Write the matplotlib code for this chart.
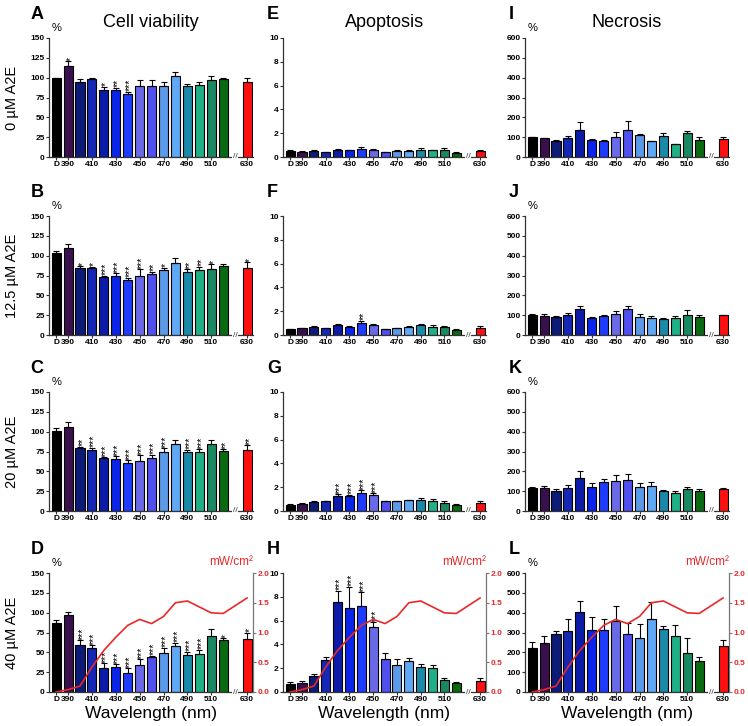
import matplotlib
matplotlib.use('Agg')
import matplotlib.pyplot as plt
import matplotlib.transforms as mtransforms
import numpy as np

plt.rcParams['font.family'] = ['Liberation Sans', 'DejaVu Sans']

bar_labels = ['D', '390', '400', '410', '420', '430', '440', '450', '460',
              '470', '480', '490', '500', '510', '520', '630']
tick_labels = ['D', '390', '410', '430', '450', '470', '490', '510', '630']
bar_colors = ['#000000', '#3a0f4e', '#0c1a78', '#1428b4', '#0c1ca8', '#0a24ea',
              '#1e3cff', '#6a6ae8', '#5050f0', '#5a9ae8', '#5fa8f6', '#1a8aa8',
              '#20b088', '#1a8860', '#0a6a10', '#ff1010']

# irradiance of each light band (mW/cm2)
irradiance = [0, 0.04, 0.1, 0.42, 0.7, 0.92, 1.12, 1.22, 1.15, 1.27, 1.5, 1.53,
              1.43, 1.33, 1.32, 1.58]

# cell viability (%)
via0 = [100, 115, 95, 98, 85, 84, 79, 89, 89, 89, 102, 90, 91, 97, 98, 94]
via0_err = [0, 5.5, 3.5, 1.5, 3.5, 3.5, 3.5, 8.5, 7.5, 6, 5.5, 2.5, 4, 5.5, 1.5, 6]
via0_sig = ['', '*', '', '', '*', '**', '***', '', '', '', '', '', '', '', '', '']
via12 = [103, 110, 84, 84, 73, 75, 69, 75, 77, 82, 91, 79, 82, 83, 87, 85]
via12_err = [3, 5, 3, 2, 2, 3, 3, 8, 3, 3, 6, 4, 4, 6, 2, 7]
via12_sig = ['', '', '*', '*', '***', '***', '***', '***', '**', '*', '', '**', '**',
             '*', '', '*']
via20 = [101, 106, 79, 77, 67, 66, 60, 63, 67, 74, 85, 75, 74, 84, 76, 77]
via20_err = [3, 6, 2, 3, 1, 3, 4, 7, 4, 5, 5, 2, 4, 5, 2, 6]
via20_sig = ['', '', '**', '***', '***', '***', '***', '***', '***', '***', '', '***',
             '***', '', '**', '**']
via40 = [87, 97, 59, 55, 30, 32, 24, 34, 44, 49, 58, 47, 48, 71, 65, 67]
via40_err = [4, 4, 6, 4, 6, 3, 6, 7, 2, 7, 4, 4, 5, 9, 3, 8]
via40_sig = ['', '', '***', '***', '***', '***', '***', '***', '***', '***', '***',
             '***', '***', '', '*', '*']

# apoptosis (%)
apo0 = [0.5, 0.45, 0.5, 0.4, 0.6, 0.55, 0.65, 0.6, 0.4, 0.5, 0.5, 0.6, 0.55, 0.6, 0.35, 0.5]
apo0_err = [0.05, 0.05, 0.1, 0.03, 0.1, 0.05, 0.15, 0.1, 0.05, 0.1, 0.1, 0.15, 0.08,
            0.15, 0.05, 0.1]
apo12 = [0.5, 0.55, 0.65, 0.55, 0.8, 0.7, 1.0, 0.85, 0.5, 0.55, 0.65, 0.8, 0.7, 0.65,
         0.45, 0.6]
apo12_err = [0.03, 0.05, 0.12, 0.05, 0.1, 0.05, 0.2, 0.05, 0.03, 0.05, 0.08, 0.15,
             0.12, 0.08, 0.03, 0.12]
apo12_sig = ['', '', '', '', '', '', '**', '', '', '', '', '', '', '', '', '']
apo20 = [0.5, 0.6, 0.75, 0.8, 1.25, 1.25, 1.5, 1.35, 0.8, 0.8, 0.9, 0.95, 0.85, 0.65,
         0.5, 0.65]
apo20_err = [0.05, 0.05, 0.08, 0.05, 0.15, 0.1, 0.25, 0.15, 0.05, 0.05, 0.05, 0.15,
             0.15, 0.15, 0.05, 0.15]
apo20_sig = ['', '', '', '', '***', '***', '***', '***', '', '', '', '', '', '', '', '']
apo40 = [0.7, 0.75, 1.35, 2.65, 7.6, 7.1, 7.2, 5.5, 2.8, 2.3, 2.6, 2.1, 2.0, 1.0,
         0.75, 0.95]
apo40_err = [0.1, 0.15, 0.2, 0.25, 0.9, 1.75, 1.2, 0.35, 0.45, 0.5, 0.25, 0.25, 0.3,
             0.15, 0.08, 0.2]
apo40_sig = ['', '', '', '', '***', '***', '***', '***', '', '', '', '', '', '', '', '']

# necrosis (%)
nec0 = [100, 94, 82, 94, 136, 85, 82, 100, 136, 110, 80, 107, 65, 119, 88, 92]
nec0_err = [0, 3, 3, 10, 39, 8, 6, 28, 44, 5, 3, 15, 3, 13, 15, 9]
nec12 = [101, 95, 90, 99, 129, 84, 98, 104, 132, 92, 88, 82, 85, 103, 91, 99]
nec12_err = [5, 10, 7, 11, 17, 7, 5, 15, 15, 13, 7, 4, 9, 24, 9, 4]
nec20 = [116, 117, 102, 116, 167, 120, 144, 150, 154, 120, 128, 101, 92, 109, 103, 109]
nec20_err = [4, 8, 8, 14, 33, 22, 16, 30, 32, 20, 17, 3, 9, 13, 7, 5]
nec40 = [224, 248, 292, 309, 401, 314, 311, 360, 290, 274, 367, 319, 283, 197, 156, 231]
nec40_err = [28, 33, 18, 57, 60, 65, 58, 72, 58, 68, 85, 13, 57, 73, 22, 30]

no_sig = [''] * 16

panels = [
    # letter, col, row, values, errors, stars
    ('A', 0, 0, via0, via0_err, via0_sig),
    ('B', 0, 1, via12, via12_err, via12_sig),
    ('C', 0, 2, via20, via20_err, via20_sig),
    ('D', 0, 3, via40, via40_err, via40_sig),
    ('E', 1, 0, apo0, apo0_err, no_sig),
    ('F', 1, 1, apo12, apo12_err, apo12_sig),
    ('G', 1, 2, apo20, apo20_err, apo20_sig),
    ('H', 1, 3, apo40, apo40_err, apo40_sig),
    ('I', 2, 0, nec0, nec0_err, no_sig),
    ('J', 2, 1, nec12, nec12_err, no_sig),
    ('K', 2, 2, nec20, nec20_err, no_sig),
    ('L', 2, 3, nec40, nec40_err, no_sig),
]
col_ymax = [150, 10, 600]
col_ystep = [25, 2, 100]
col_titles = ['Cell viability', 'Apoptosis', 'Necrosis']
row_labels = ['0 µM A2E', '12.5 µM A2E', '20 µM A2E', '40 µM A2E']

W, H = 748, 726
col_left = [49, 283, 525]
col_w = [204, 203, 204]
row_bottom = [157, 335, 511, 692]
ax_h = 119

x = list(range(15)) + [16]
tick_pos = [0, 1, 3, 5, 7, 9, 11, 13, 16]
spine_col = '#333333'
red = '#e8282a'
tsize = 6.0

fig = plt.figure(figsize=(W / 100, H / 100), dpi=100)

for letter, c, r, vals, errs, sig in panels:
    ax = fig.add_axes([col_left[c] / W, 1 - row_bottom[r] / H, col_w[c] / W, ax_h / H])
    ax.bar(x, vals, width=0.76, color=bar_colors, edgecolor='black', linewidth=0.8,
           zorder=2)
    ax.errorbar(x, vals, yerr=[np.zeros(len(errs)), errs], fmt='none', ecolor='black',
                elinewidth=0.8, capsize=2, capthick=0.8, zorder=3)
    ymax = col_ymax[c]
    # rotated stars sit high in the em box, nudge them back onto the bar centre
    star_tr = mtransforms.offset_copy(ax.transData, fig=fig, x=1.7, y=0, units='points')
    for xi, v, e, s in zip(x, vals, errs, sig):
        if s:
            ax.text(xi, v + e + ymax * 0.004, s, rotation=90, ha='center', va='bottom',
                    fontsize=7.5, transform=star_tr)
    ax.set_xlim(-0.6, 16.5)
    ax.set_ylim(0, ymax)
    ax.set_yticks(np.arange(0, ymax + 0.01, col_ystep[c]))
    ax.set_xticks(tick_pos)
    ax.set_xticklabels(tick_labels)
    ax.tick_params(labelsize=tsize, length=2, width=0.8, pad=1.0, colors=spine_col,
                   labelcolor='black')
    for lbl in ax.get_xticklabels() + ax.get_yticklabels():
        lbl.set_fontweight('bold')
    for sp in ['top', 'right']:
        ax.spines[sp].set_visible(False)
    for sp in ['left', 'bottom']:
        ax.spines[sp].set_color(spine_col)
        ax.spines[sp].set_linewidth(0.9)
    # axis break mark
    ax.text(15.0, 0, '//', transform=ax.get_xaxis_transform(), ha='center', va='center',
            fontsize=6, color=spine_col,
            bbox=dict(facecolor='white', edgecolor='none', pad=0.3), zorder=5,
            clip_on=False)
    ax.text(-0.09 if c == 0 else -0.08, 1.13, letter, transform=ax.transAxes,
            fontsize=13, fontweight='bold', ha='left', va='bottom')
    if c != 1:
        ax.text(0.015, 1.04, '%', transform=ax.transAxes, fontsize=8, ha='left',
                va='bottom')
    if r == 0:
        ax.set_title(col_titles[c], fontsize=13, pad=8)
    if c == 0:
        fig.text(12 / W, 1 - (row_bottom[r] - ax_h / 2) / H, row_labels[r],
                 rotation=90, ha='center', va='center', fontsize=10.5)
    if r == 3:
        ax.set_xlabel('Wavelength (nm)', fontsize=12.5, labelpad=2)
        ax2 = ax.twinx()
        ax2.plot(x, irradiance, color=red, linewidth=1.2, zorder=4)
        ax2.set_ylim(0, 2)
        ax2.set_yticks([0, 0.5, 1.0, 1.5, 2.0])
        ax2.set_yticklabels(['0.0', '0.5', '1.0', '1.5', '2.0'])
        ax2.tick_params(labelsize=tsize, length=2, width=0.8, pad=1.0, colors='#777777',
                        labelcolor=red)
        for lbl in ax2.get_yticklabels():
            lbl.set_fontweight('bold')
        ax2.spines['top'].set_visible(False)
        ax2.spines['left'].set_visible(False)
        ax2.spines['bottom'].set_visible(False)
        ax2.spines['right'].set_color('#777777')
        ax2.spines['right'].set_linewidth(0.9)
        ax2.text(1.0, 1.04, 'mW/cm²', transform=ax2.transAxes, fontsize=8.5, color=red,
                 ha='right', va='bottom')

fig.savefig('out.png', dpi=100)
